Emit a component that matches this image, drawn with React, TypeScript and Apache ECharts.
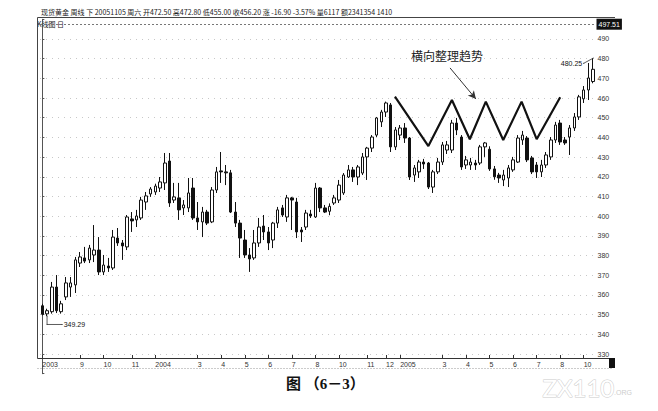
import React, { useEffect, useRef } from 'react';
import * as echarts from 'echarts';

// Weekly OHLC of spot gold (index 0 = first week shown)
const opens = [
  354.5, 350.4, 351.5, 364.0, 351.5, 359.0, 364.0, 365.1, 376.2, 378.8,
  377.8, 380.3, 382.8, 371.7, 374.7, 373.7, 388.9, 386.4, 384.4, 398.6,
  398.1, 399.1, 407.2, 411.3, 412.3, 414.3, 416.9, 428.0, 408.2, 409.3,
  404.2, 404.2, 414.3, 399.1, 397.1, 402.1, 397.1, 413.3, 423.0, 422.5,
  422.0, 402.1, 396.5, 387.9, 380.3, 378.8, 386.4, 395.0, 392.0, 387.9,
  396.5, 404.2, 399.6, 409.3, 407.2, 393.0, 394.5, 401.1, 399.6, 414.3,
  404.2, 402.5, 406.7, 408.2, 411.8, 419.9, 423.5, 419.9, 421.9, 430.1,
  434.6, 441.2, 447.9, 452.9, 456.5, 435.2, 441.2, 444.8, 439.7, 420.9,
  422.5, 427.5, 427.0, 414.8, 422.5, 427.5, 433.6, 433.6, 447.3, 440.2,
  426.0, 426.0, 427.0, 427.0, 435.2, 434.0, 424.0, 420.9, 418.4, 419.4,
  423.5, 427.5, 438.7, 439.7, 429.6, 426.0, 422.5, 426.0, 430.1, 438.7,
  447.3, 438.7, 440.2, 444.8, 450.4, 459.6, 464.1, 468.4,
];
const closes = [
  350.2, 352.0, 364.0, 352.0, 355.5, 366.1, 366.1, 377.8, 379.3, 377.2,
  383.8, 382.8, 371.7, 375.2, 373.7, 389.4, 386.4, 384.9, 399.6, 397.6,
  400.1, 408.2, 410.3, 413.8, 415.3, 417.4, 427.0, 406.7, 409.8, 403.2,
  405.7, 411.8, 399.1, 397.1, 402.1, 396.5, 413.3, 422.5, 422.5, 422.0,
  402.1, 396.5, 388.9, 380.3, 378.3, 386.4, 394.5, 392.0, 386.4, 396.5,
  403.2, 400.6, 409.3, 408.2, 392.0, 392.0, 401.6, 400.1, 414.3, 404.2,
  402.1, 405.0, 409.3, 415.8, 420.9, 423.5, 419.9, 425.0, 430.1, 434.6,
  440.2, 449.9, 452.9, 457.5, 435.2, 443.8, 444.8, 439.7, 419.9, 424.5,
  427.5, 426.5, 414.8, 422.5, 427.5, 436.2, 436.2, 447.3, 443.8, 425.0,
  428.6, 427.5, 426.0, 435.2, 437.2, 424.0, 420.0, 419.4, 420.9, 424.5,
  428.6, 439.7, 441.2, 428.6, 422.5, 422.5, 426.0, 431.1, 438.7, 446.3,
  437.7, 437.2, 444.8, 450.4, 460.6, 464.1, 470.2, 474.6,
];
const highs = [
  355.5, 353.0, 366.6, 370.1, 357.0, 369.1, 369.1, 379.3, 381.8, 384.4,
  385.4, 395.5, 389.4, 380.3, 378.8, 393.0, 394.0, 387.9, 400.6, 402.1,
  403.2, 409.8, 412.3, 414.8, 416.5, 419.9, 432.1, 432.1, 416.9, 416.9,
  408.2, 419.4, 419.4, 407.2, 404.7, 403.2, 414.8, 425.0, 432.6, 426.0,
  423.5, 407.2, 398.1, 393.0, 383.8, 393.0, 399.1, 400.6, 394.5, 397.1,
  404.7, 405.7, 410.8, 409.8, 409.3, 394.5, 403.2, 403.2, 416.9, 414.8,
  405.7, 406.5, 410.8, 418.4, 421.9, 426.0, 425.0, 426.0, 432.1, 435.2,
  441.2, 450.4, 454.0, 458.2, 457.5, 445.3, 446.3, 447.3, 440.2, 426.0,
  428.6, 429.1, 427.5, 423.5, 429.6, 437.7, 438.2, 448.9, 449.9, 441.2,
  430.6, 429.6, 428.6, 436.2, 437.7, 435.5, 425.5, 422.0, 423.5, 426.0,
  430.1, 441.2, 443.3, 440.7, 430.6, 427.5, 428.6, 432.6, 440.2, 447.9,
  448.9, 440.2, 446.3, 452.4, 461.6, 466.1, 477.8, 480.25,
];
const lows = [
  349.6, 349.29, 350.5, 350.8, 350.5, 357.4, 359.0, 361.0, 374.2, 376.2,
  376.2, 376.7, 370.1, 370.1, 371.7, 372.7, 384.9, 377.8, 382.8, 392.0,
  394.5, 398.1, 403.2, 409.8, 410.8, 412.3, 413.3, 404.7, 406.7, 398.1,
  400.6, 402.1, 398.1, 393.0, 389.4, 395.5, 396.5, 411.8, 416.9, 415.8,
  401.6, 394.5, 378.8, 378.8, 371.7, 377.8, 384.4, 387.9, 382.8, 383.8,
  394.0, 399.6, 397.1, 393.0, 388.9, 386.9, 393.0, 399.1, 399.1, 402.1,
  401.6, 400.5, 405.7, 406.7, 410.8, 419.4, 417.4, 415.8, 420.9, 418.4,
  432.6, 440.2, 445.3, 450.4, 432.6, 433.6, 438.7, 437.2, 418.4, 417.4,
  419.4, 424.0, 413.8, 411.8, 421.4, 426.0, 431.6, 432.1, 441.2, 423.5,
  424.0, 423.5, 423.5, 426.0, 430.1, 423.0, 418.5, 416.9, 415.3, 414.8,
  422.5, 427.0, 436.2, 427.5, 421.4, 419.4, 419.9, 424.5, 428.6, 437.2,
  436.2, 436.2, 431.1, 443.3, 448.9, 457.5, 459.0, 467.5,
];

// x-axis tick labels (week index -> text)
const tickIdx = [0, 8, 13, 19, 24, 33, 38, 43, 48, 53, 58, 63, 69, 73, 76, 85, 90, 95, 100, 105, 110, 115];
const tickText = ['2003', '9', '10', '11', '2004', '3', '4', '5', '6', '7', '8', '10', '11', '12', '2005', '3', '4', '5', '6', '7', '8', '10'];

// price axis
const yMin = 320;
const yMax = 500;
const yStep = 10;
const topMarker = 497.51;

// annotations (in data coordinates: week index, price)
const lowIdx = 1;
const lowValue = 349.29;
const highIdx = 117;
const highValue = 480.25;
const zigIdx = [74.9, 82.0, 87.0, 90.8, 94.2, 97.9, 101.8, 105.0, 110.0];
const zigVal = [460.7, 435.6, 459.0, 439.1, 458.2, 438.7, 458.2, 439.1, 460.4];
const arrowFrom = [86.6, 475.3];
const arrowTo = [92.1, 459.5];

const headerText = '现货黄金 周线 下 20051105 周六 开472.50 高472.80 低455.00 收456.20 涨 -16.90 -3.57% 量6117 额2341354 1410';
const subText = 'K线图 日';
const noteText = '横向整理趋势';
const captionText = '图 （6－3）';

export default function App() {
  const ref = useRef<HTMLDivElement>(null);

  useEffect(() => {
    const chart = echarts.init(ref.current!, null, { renderer: 'svg', width: 658, height: 411 });
    const N = opens.length;
    const categories = opens.map((_, i) => 'W' + i);
    const labelMap: Record<number, string> = {};
    tickIdx.forEach((t, k) => { labelMap[t] = tickText[k]; });
    const isTick = (i: number) => Object.prototype.hasOwnProperty.call(labelMap, i);
    const candles = opens.map((o, i) => [o, closes[i], lows[i], highs[i]]);
    const font = 'Liberation Sans, Arial, sans-serif';
    const cjk = '"Noto Sans CJK SC", sans-serif';

    const option: any = {
      animation: false,
      backgroundColor: '#ffffff',
      grid: { left: 40, right: 62.5, top: 19.3, bottom: 37.3 },
      xAxis: [
        {
          type: 'category',
          data: categories,
          boundaryGap: true,
          offset: -15.7,
          axisLine: { show: true, onZero: false, lineStyle: { color: '#333', width: 1 } },
          axisTick: {
            show: true, inside: true, length: 3, alignWithLabel: true,
            interval: (i: number) => isTick(i), lineStyle: { color: '#333' },
          },
          axisLabel: {
            interval: (i: number) => isTick(i),
            formatter: (_v: string, i: number) => labelMap[i] ?? '',
            align: 'left', margin: 3, fontSize: 7, color: '#333', fontFamily: font,
          },
          splitLine: { show: false },
        },
        { type: 'value', min: -0.5, max: N - 0.5, show: false },
      ],
      yAxis: {
        type: 'value',
        position: 'right',
        min: yMin,
        max: yMax,
        interval: yStep,
        axisLine: { show: true, lineStyle: { color: '#555', width: 1 } },
        axisTick: { show: true, length: 2, lineStyle: { color: '#555' } },
        axisLabel: {
          margin: 2, fontSize: 7, color: '#333', fontFamily: font,
          formatter: (v: number) => (v <= yMin || v >= yMax ? '' : String(v)),
        },
        splitLine: {
          show: true, showMinLine: false, showMaxLine: false,
          lineStyle: { type: [1, 5], color: '#c8c8c8', width: 1 },
        },
      },
      series: [
        {
          type: 'candlestick',
          data: candles,
          barWidth: 3,
          itemStyle: { color: '#ffffff', color0: '#111111', borderColor: '#111111', borderColor0: '#111111', borderWidth: 1 },
          markLine: {
            silent: true,
            symbol: ['none', 'none'],
            data: [{ yAxis: topMarker }],
            lineStyle: { type: [2, 2], color: '#777', width: 1 },
            label: {
              position: 'end', formatter: String(topMarker), backgroundColor: '#111', color: '#fff',
              fontSize: 7, fontFamily: font, padding: [2, 2], distance: 1,
            },
          },
          z: 3,
        },
        {
          type: 'line',
          xAxisIndex: 1,
          data: zigIdx.map((x, i) => [x, zigVal[i]]),
          symbol: 'none',
          lineStyle: { color: '#111', width: 2.2 },
          z: 5,
          markLine: {
            silent: true,
            symbol: ['none', 'arrow'],
            symbolSize: [6, 8],
            label: { show: false },
            lineStyle: { color: '#333', width: 1, type: 'solid' },
            data: [[{ coord: arrowFrom }, { coord: arrowTo }]],
          },
        },
        {
          type: 'line',
          xAxisIndex: 1,
          symbol: 'circle',
          symbolSize: 1,
          itemStyle: { color: '#333' },
          lineStyle: { color: '#333', width: 0.8 },
          data: [
            [lowIdx, lowValue],
            [lowIdx, lowValue - 4.3],
            {
              value: [lowIdx + 3.2, lowValue - 4.3],
              label: { show: true, position: 'right', distance: 1, formatter: String(lowValue), fontSize: 7, color: '#111', fontFamily: font },
            },
          ],
          z: 6,
        },
        {
          type: 'line',
          xAxisIndex: 1,
          symbol: 'circle',
          symbolSize: 1,
          itemStyle: { color: '#333' },
          lineStyle: { color: '#333', width: 0.8 },
          data: [
            [highIdx, highValue],
            {
              value: [highIdx - 2, highValue - 2.6],
              label: { show: true, position: 'left', distance: 1, formatter: String(highValue), fontSize: 7, color: '#111', fontFamily: font },
            },
          ],
          z: 6,
        },
      ],
      graphic: [
        { type: 'text', left: 41, top: 8, style: { text: headerText, fontSize: 7, fill: '#222', fontFamily: cjk } },
        { type: 'line', shape: { x1: 37.5, y1: 17.5, x2: 615, y2: 17.5 }, style: { stroke: '#444', lineWidth: 1 } },
        { type: 'text', left: 37, top: 20, style: { text: subText, fontSize: 7, fill: '#222', fontFamily: cjk } },
        { type: 'line', shape: { x1: 37.5, y1: 17.5, x2: 37.5, y2: 358.5 }, style: { stroke: '#444', lineWidth: 1 } },
        { type: 'line', shape: { x1: 37.5, y1: 358.5, x2: 612, y2: 358.5 }, style: { stroke: '#333', lineWidth: 1 } },
        { type: 'line', shape: { x1: 37.5, y1: 368.5, x2: 612, y2: 368.5 }, style: { stroke: '#999', lineWidth: 1, lineDash: [1, 2] } },
        { type: 'rect', shape: { x: 609, y: 358, width: 6, height: 10 }, style: { fill: '#111' } },
        { type: 'text', left: 411, top: 49, style: { text: noteText, fontSize: 12, fill: '#222', fontFamily: cjk } },
        { type: 'text', left: 286, top: 376, style: { text: captionText, fontSize: 15, fontWeight: 'bold', fill: '#111', fontFamily: '"Liberation Serif", "Noto Sans CJK SC", serif' } },
        { type: 'text', left: 542, top: 375, style: { text: 'ZX110', fontSize: 24, fill: '#ffffff', stroke: '#cccccc', lineWidth: 1, fontFamily: 'Lato, sans-serif' } },
        { type: 'text', left: 614, top: 389, style: { text: '.ORG', fontSize: 7, fill: '#cccccc', fontFamily: font } },
      ],
    };

    chart.setOption(option);
    return () => chart.dispose();
  }, []);

  return (
    <div
      ref={ref}
      style={{ position: 'fixed', left: 0, top: 0, width: 658, height: 411, background: '#fff' }}
    />
  );
}
